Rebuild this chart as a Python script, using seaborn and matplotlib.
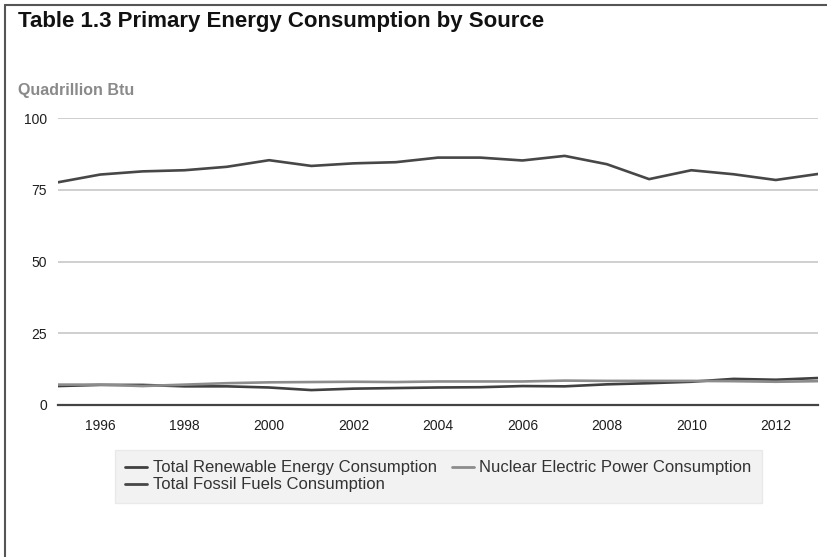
import pandas as pd
import matplotlib
matplotlib.use("Agg")
import matplotlib.pyplot as plt
import seaborn as sns
from matplotlib.lines import Line2D


# ============================================================
# Data (quadrillion Btu)
# ============================================================

years = list(range(1995, 2014))

renewable = [6.6, 7.0, 7.0, 6.5, 6.5, 6.1, 5.2, 5.7, 5.9, 6.1,
             6.2, 6.6, 6.5, 7.2, 7.6, 8.1, 9.1, 8.8, 9.4]

nuclear = [7.1, 7.1, 6.6, 7.1, 7.6, 7.9, 8.0, 8.1, 8.0, 8.2,
           8.2, 8.2, 8.5, 8.4, 8.4, 8.4, 8.3, 8.1, 8.3]

fossil = [77.6, 80.3, 81.4, 81.8, 83.0, 85.3, 83.3, 84.2, 84.6, 86.2,
          86.2, 85.2, 86.8, 83.9, 78.7, 81.8, 80.4, 78.4, 80.5]

series_names = [
    "Total Renewable Energy Consumption",
    "Nuclear Electric Power Consumption",
    "Total Fossil Fuels Consumption",
]

series_colors = ["#404040", "#8c8c8c", "#474747"]

y_ticks = [0, 25, 50, 75, 100]
x_ticks = list(range(1996, 2013, 2))


# ============================================================
# Theme
# ============================================================

sns.set_theme(style="white")
plt.rcParams["font.family"] = ["Liberation Sans", "DejaVu Sans"]

frame = pd.DataFrame({
    "Year": years * 3,
    "Value": renewable + nuclear + fossil,
    "Series": [series_names[0]] * len(years)
    + [series_names[1]] * len(years)
    + [series_names[2]] * len(years),
})


# ============================================================
# Figure
# ============================================================

fig = plt.figure(figsize=(8.27, 5.57), dpi=100)

ax = fig.add_axes([58 / 827, 1 - 405 / 557, 760 / 827, 287 / 557])

sns.lineplot(
    data=frame,
    x="Year",
    y="Value",
    hue="Series",
    palette=dict(zip(series_names, series_colors)),
    linewidth=1.9,
    legend=False,
    ax=ax,
)

ax.set_xlim(1995, 2013)
ax.set_ylim(0, 100)

ax.set_yticks(y_ticks)
ax.set_xticks(x_ticks)

for value in y_ticks[1:]:
    ax.axhline(value, color="#cfcfcf", linewidth=1.4, zorder=0)

for side in ["top", "right", "left"]:
    ax.spines[side].set_visible(False)

ax.spines["bottom"].set_color("#444444")
ax.spines["bottom"].set_linewidth(1.6)

ax.tick_params(
    axis="x",
    direction="out",
    length=4,
    width=1.2,
    color="#444444",
    labelsize=10,
    labelcolor="#1e1e1e",
    pad=6,
)
ax.tick_params(
    axis="y",
    length=0,
    labelsize=10,
    labelcolor="#1e1e1e",
    pad=8,
)

ax.set_xlabel("")
ax.set_ylabel("")


# ============================================================
# Texts
# ============================================================

fig.text(
    18 / 827,
    1 - 21 / 557,
    "Table 1.3 Primary Energy Consumption by Source",
    fontsize=16,
    fontweight="bold",
    color="#111111",
    va="center",
    ha="left",
)

fig.text(
    18 / 827,
    1 - 91 / 557,
    "Quadrillion Btu",
    fontsize=11.5,
    fontweight="bold",
    color="#8a8a8a",
    va="center",
    ha="left",
)


# ============================================================
# Legend (column-major fill: row 1 = renewable, nuclear)
# ============================================================

legend_order = [0, 2, 1]

handles = [
    Line2D([0], [0], color=series_colors[i], linewidth=2)
    for i in legend_order
]

legend = fig.legend(
    handles,
    [series_names[i] for i in legend_order],
    loc="upper left",
    bbox_to_anchor=(115 / 827, 1 - 450 / 557),
    ncol=2,
    fontsize=12,
    frameon=True,
    fancybox=False,
    handlelength=1.3,
    handletextpad=0.35,
    columnspacing=0.9,
    labelspacing=0.12,
    borderpad=0.62,
    borderaxespad=0,
    labelcolor="#333333",
)

legend.get_frame().set_facecolor("#efefef")
legend.get_frame().set_edgecolor("#e6e6e6")


# ============================================================
# Outer frame (left and top edges)
# ============================================================

fig.add_artist(Line2D([5 / 827, 5 / 827], [0, 1 - 5 / 557],
                      transform=fig.transFigure, color="#555555", linewidth=1.5))
fig.add_artist(Line2D([5 / 827, 1], [1 - 5 / 557, 1 - 5 / 557],
                      transform=fig.transFigure, color="#555555", linewidth=1.5))

fig.savefig("out.png", dpi=100)
plt.close(fig)
